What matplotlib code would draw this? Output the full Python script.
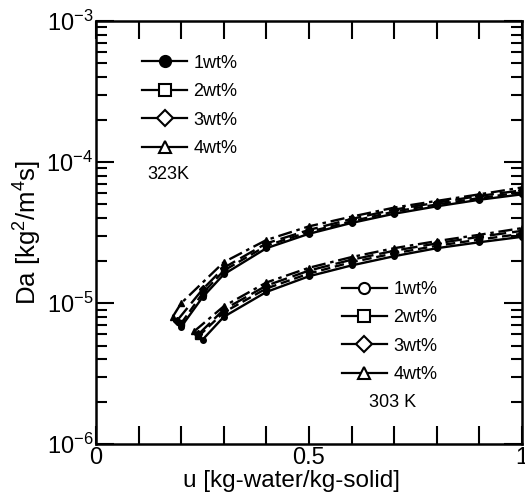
import matplotlib
matplotlib.use("Agg")
import matplotlib.pyplot as plt
from matplotlib.lines import Line2D
from matplotlib.ticker import LogLocator, NullFormatter, FixedLocator, FixedFormatter

plt.rcParams['font.family'] = ['Liberation Sans', 'DejaVu Sans']
plt.rcParams['mathtext.default'] = 'regular'
plt.rcParams['axes.unicode_minus'] = False

labels = ['1wt%', '2wt%', '3wt%', '4wt%']

# 323 K, Da in units of 1e-5 kg2/m4s
u_323 = [
    [0.20, 0.25, 0.3, 0.4, 0.5, 0.6, 0.7, 0.8, 0.9, 1.0],
    [0.20, 0.25, 0.3, 0.4, 0.5, 0.6, 0.7, 0.8, 0.9, 1.0],
    [0.19, 0.25, 0.3, 0.4, 0.5, 0.6, 0.7, 0.8, 0.9, 1.0],
    [0.18, 0.20, 0.3, 0.4, 0.5, 0.6, 0.7, 0.8, 0.9, 1.0],
]
da_323 = [
    [0.68, 1.10, 1.60, 2.45, 3.10, 3.70, 4.30, 4.85, 5.40, 5.90],
    [0.72, 1.17, 1.70, 2.55, 3.20, 3.80, 4.45, 5.00, 5.55, 6.10],
    [0.75, 1.25, 1.78, 2.65, 3.30, 3.95, 4.60, 5.15, 5.75, 6.30],
    [0.80, 1.00, 1.95, 2.80, 3.50, 4.10, 4.75, 5.30, 5.90, 6.60],
]

# 303 K
u_303 = [
    [0.25, 0.3, 0.4, 0.5, 0.6, 0.7, 0.8, 0.9, 1.0],
    [0.24, 0.3, 0.4, 0.5, 0.6, 0.7, 0.8, 0.9, 1.0],
    [0.24, 0.3, 0.4, 0.5, 0.6, 0.7, 0.8, 0.9, 1.0],
    [0.23, 0.3, 0.4, 0.5, 0.6, 0.7, 0.8, 0.9, 1.0],
]
da_303 = [
    [0.55, 0.80, 1.20, 1.55, 1.85, 2.15, 2.45, 2.70, 2.95],
    [0.58, 0.86, 1.27, 1.62, 1.95, 2.25, 2.55, 2.82, 3.10],
    [0.60, 0.90, 1.33, 1.70, 2.03, 2.35, 2.65, 2.95, 3.25],
    [0.63, 0.95, 1.40, 1.78, 2.12, 2.45, 2.75, 3.05, 3.40],
]

x_ticks = [0.0, 0.1, 0.2, 0.3, 0.4, 0.5, 0.6, 0.7, 0.8, 0.9, 1.0]
x_tick_labels = ['0', '', '', '', '', '0.5', '', '', '', '', '1']

line_styles = ['-', (0, (4, 2)), (0, (7, 2.5)), (0, (6, 2, 1.5, 2))]
markers = ['o', 's', 'D', '^']
fill_323 = ['k', 'white', 'white', 'white']
fill_303 = ['white', 'white', 'white', 'white']

fig = plt.figure(figsize=(5.25, 4.98), dpi=100)
ax = fig.add_axes([0.183, 0.108, 0.811, 0.850])

for i in range(4):
    ax.plot(u_323[i], [v * 1e-5 for v in da_323[i]], color='k', lw=1.7,
            ls=line_styles[i], marker=markers[i], ms=4, mfc='k', mec='k')
    ax.plot(u_303[i], [v * 1e-5 for v in da_303[i]], color='k', lw=1.7,
            ls=line_styles[i], marker=markers[i], ms=4, mfc='k', mec='k')

ax.set_yscale('log')
ax.set_xlim(0, 1)
ax.set_ylim(1e-6, 1e-3)

ax.xaxis.set_major_locator(FixedLocator(x_ticks))
ax.xaxis.set_major_formatter(FixedFormatter(x_tick_labels))
ax.yaxis.set_major_locator(LogLocator(base=10, numticks=10))
ax.yaxis.set_minor_locator(LogLocator(base=10, subs=range(2, 10), numticks=20))
ax.yaxis.set_minor_formatter(NullFormatter())

ax.tick_params(which='both', direction='in', top=True, right=True, width=1.5)
ax.tick_params(which='major', length=13, labelsize=17, pad=2)
ax.tick_params(which='minor', length=8)
for s in ax.spines.values():
    s.set_linewidth(1.8)

ax.set_xlabel('u [kg-water/kg-solid]', fontsize=17.5)
ax.xaxis.set_label_coords(0.46, -0.06)
ax.set_ylabel('Da [kg$^2$/m$^4$s]', fontsize=18.5, labelpad=2)

leg_kw = dict(loc='upper left', frameon=False, fontsize=13, handlelength=2.5,
              handletextpad=0.35, labelspacing=0.63, borderaxespad=0, borderpad=0)

h1 = [Line2D([], [], color='k', lw=1.6, marker=markers[i], ms=8, mfc=fill_323[i], mec='k', mew=1.5)
      for i in range(4)]
leg1 = ax.legend(h1, labels, bbox_to_anchor=(0.108, 0.92), **leg_kw)
ax.add_artist(leg1)
ax.text(0.12, 0.638, '323K', transform=ax.transAxes, fontsize=13, va='center')

h2 = [Line2D([], [], color='k', lw=1.6, marker=markers[i], ms=8, mfc=fill_303[i], mec='k', mew=1.5)
      for i in range(4)]
ax.legend(h2, labels, bbox_to_anchor=(0.577, 0.386), **leg_kw)
ax.text(0.64, 0.099, '303 K', transform=ax.transAxes, fontsize=13, va='center')

fig.savefig('out.png', dpi=100)
